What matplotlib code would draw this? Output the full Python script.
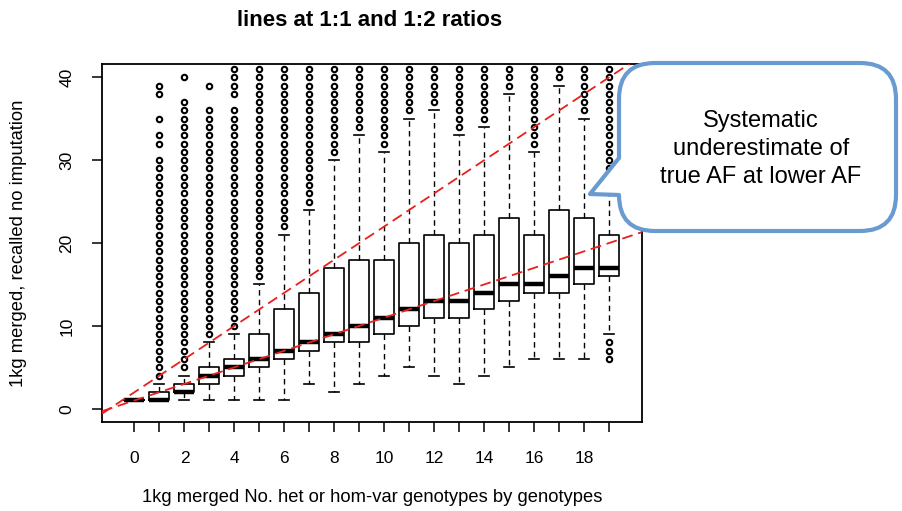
import matplotlib
matplotlib.use('Agg')
import matplotlib.pyplot as plt
from matplotlib.path import Path
from matplotlib.patches import PathPatch
from matplotlib.transforms import Affine2D

plt.rcParams['font.family'] = ['Liberation Sans', 'DejaVu Sans']

# genotype count per box (x axis) and box stats
positions = list(range(20))
whisk_lo = [1, 1, 1, 1, 1, 1, 1, 3, 2, 3, 4, 5, 4, 3, 4, 5, 6, 6, 6, 9]
q1 = [1, 1, 2, 3, 4, 5, 6, 7, 8, 8, 9, 10, 11, 11, 12, 13, 14, 14, 15, 16]
med = [1, 1, 2, 4, 5, 6, 7, 8, 9, 10, 11, 12, 13, 13, 14, 15, 15, 16, 17, 17]
q3 = [1, 2, 3, 5, 6, 9, 12, 14, 17, 18, 18, 20, 21, 20, 21, 23, 21, 24, 23, 21]
whisk_hi = [1, 3, 4, 8, 9, 15, 21, 24, 30, 33, 31, 35, 36, 33, 34, 38, 31, 39, 35, 27]
# outliers, stored as runs of consecutive integer values (first, last)
outlier_runs = [
    [],
    [(4, 30), (32, 33), (35, 35), (38, 39)],
    [(5, 37), (40, 40)],
    [(9, 36), (39, 39)],
    [(10, 36), (38, 41)],
    [(16, 41)],
    [(22, 41)],
    [(25, 41)],
    [(31, 41)],
    [(34, 41)],
    [(32, 41)],
    [(36, 41)],
    [(37, 41)],
    [(34, 41)],
    [(35, 41)],
    [(39, 41)],
    [(32, 41)],
    [(40, 41)],
    [(36, 41)],
    [(6, 8), (28, 41)],
]
yticks = [0, 10, 20, 30, 40]
ratio_slopes = [1, 2]   # 1:1 and 1:2 lines
line_origin = (-1, 0)   # R box positions start at 1

stats = []
for i in range(len(positions)):
    fl = []
    for a, b in outlier_runs[i]:
        fl += list(range(a, b + 1))
    stats.append(dict(med=med[i], q1=q1[i], q3=q3[i], whislo=whisk_lo[i],
                      whishi=whisk_hi[i], fliers=fl))

W, H = 902, 511
fig = plt.figure(figsize=(W / 100, H / 100), dpi=100)
ax = fig.add_axes([102 / W, 1 - 422 / H, (641.7 - 102) / W, (422 - 64) / H])

ax.bxp(stats, positions=positions, widths=0.8, capwidths=0.4,
       boxprops=dict(color='black', linewidth=1.2),
       medianprops=dict(color='black', linewidth=3.2, solid_capstyle='butt'),
       whiskerprops=dict(color='black', linewidth=1.0, linestyle=(0, (4, 3))),
       capprops=dict(color='black', linewidth=1.2),
       flierprops=dict(marker='o', markersize=3.9, markerfacecolor='none',
                       markeredgecolor='black', markeredgewidth=1.5))

for s in ratio_slopes:
    ax.axline(line_origin, slope=s, color='#e8201e', linewidth=1.3,
              linestyle=(0, (6, 3.2)), zorder=5)

ax.set_xlim(-1.3, 20.3)
ax.set_ylim(-1.6, 41.6)
ax.set_xticks(positions)
ax.set_xticklabels([str(p) if p % 2 == 0 else '' for p in positions])
ax.set_yticks(yticks)
ax.set_yticklabels([str(v) for v in yticks], rotation=90, va='center')
ax.tick_params(axis='both', direction='out', length=7, width=1.1,
               labelsize=12.5, color='black')
ax.tick_params(axis='x', pad=14)
ax.tick_params(axis='y', pad=13)
for sp in ax.spines.values():
    sp.set_linewidth(1.3)

ax.set_xlabel('1kg merged No. het or hom-var genotypes by genotypes',
              fontsize=13.2)
ax.xaxis.set_label_coords(0.5, -0.21)
ax.xaxis.label.set_va('center')
ax.set_ylabel('1kg merged, recalled no imputation', fontsize=13.2)
ax.yaxis.set_label_coords(-0.155, 0.5)
ax.yaxis.label.set_va('center')

fig.text(370 / W, 1 - 20 / H, 'lines at 1:1 and 1:2 ratios',
         family=['Liberation Sans Narrow', 'Liberation Sans'],
         fontweight='bold', fontsize=16, ha='center', va='center')

# callout bubble (pixel coords, y down)
L, R, T, B, r = 619, 896, 63, 231, 36
verts = [(L + r, T), (R - r, T), (R, T), (R, T + r), (R, B - r), (R, B),
         (R - r, B), (L + r, B), (L, B), (L, B - r), (590, 194), (L, 158),
         (L, T + r), (L, T), (L + r, T), (L + r, T)]
codes = [Path.MOVETO, Path.LINETO, Path.CURVE3, Path.CURVE3, Path.LINETO,
         Path.CURVE3, Path.CURVE3, Path.LINETO, Path.CURVE3, Path.CURVE3,
         Path.LINETO, Path.LINETO, Path.LINETO, Path.CURVE3, Path.CURVE3,
         Path.CLOSEPOLY]
to_fig = Affine2D().scale(1 / W, -1 / H).translate(0, 1) + fig.transFigure
bubble = PathPatch(Path(verts, codes), transform=to_fig, facecolor='white',
                   edgecolor='#6a9bd0', linewidth=3, joinstyle='round',
                   zorder=10)
fig.patches.append(bubble)
fig.text(761 / W, 1 - 149 / H, 'Systematic\nunderestimate of\ntrue AF at lower AF',
         ha='center', va='center', fontsize=17, linespacing=1.35, zorder=11)

fig.savefig('out.png', dpi=100)
